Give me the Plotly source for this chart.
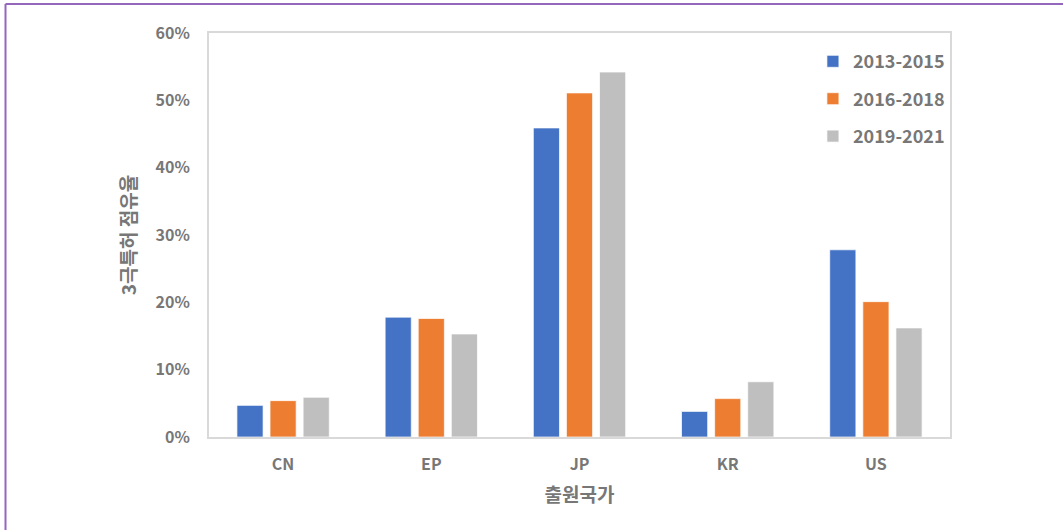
import plotly.graph_objects as go

categories = ["CN", "EP", "JP", "KR", "US"]
series_names = ["2013-2015", "2016-2018", "2019-2021"]
v_2013_2015 = [0.047, 0.178, 0.459, 0.038, 0.278]
v_2016_2018 = [0.054, 0.176, 0.511, 0.057, 0.201]
v_2019_2021 = [0.059, 0.153, 0.542, 0.082, 0.162]
y_ticks = [0, 0.1, 0.2, 0.3, 0.4, 0.5, 0.6]
colors = ["#4472C4", "#ED7D31", "#BFBFBF"]

FONT = "Noto Sans CJK KR"
GREY = "#777777"

fig = go.Figure()
for name, vals, col in zip(series_names, [v_2013_2015, v_2016_2018, v_2019_2021], colors):
    fig.add_trace(go.Bar(
        x=categories, y=vals, name=name, legendgroup=name,
        marker=dict(color=col, line=dict(color="rgba(255,255,255,0.7)", width=1)),
    ))

fig.update_layout(
    width=1063, height=530,
    margin=dict(l=209, r=113, t=33, b=93),
    paper_bgcolor="white", plot_bgcolor="white",
    barmode="group", bargap=0.33, bargroupgap=0.21,
    font=dict(family=FONT, color=GREY, size=16),
    legend=dict(
        x=0.815, y=0.975, xanchor="left", yanchor="top",
        font=dict(family=FONT, size=18, color=GREY, weight="bold"),
        bgcolor="rgba(0,0,0,0)", tracegroupgap=11, itemwidth=30,
        traceorder="grouped",
    ),
    xaxis=dict(
        showline=True, mirror=True, linecolor="#D9D9D9", linewidth=2,
        ticks="outside", ticklen=12, tickcolor="rgba(0,0,0,0)",
        tickfont=dict(family=FONT, size=16, color=GREY, weight="bold"),
        title=dict(text="출원국가", standoff=14,
                   font=dict(family=FONT, size=19, color=GREY, weight="bold")),
    ),
    yaxis=dict(
        range=[0, 0.6], tickvals=y_ticks, tickformat=".0%",
        showgrid=False, zeroline=False,
        showline=True, mirror=True, linecolor="#D9D9D9", linewidth=2,
        ticks="outside", ticklen=14, tickcolor="rgba(0,0,0,0)",
        tickfont=dict(family=FONT, size=16, color=GREY, weight="bold"),
        title=dict(text="3극특허 점유율", standoff=14,
                   font=dict(family=FONT, size=19, color=GREY, weight="bold")),
    ),
    shapes=[
        dict(type="line", xref="paper", yref="paper",
             x0=(5.5 - 209) / 741, x1=(5.5 - 209) / 741,
             y0=(437 - 4) / 404, y1=(437 - 540) / 404,
             line=dict(color="#9467BD", width=2)),
        dict(type="line", xref="paper", yref="paper",
             x0=(5.5 - 209) / 741, x1=(1070 - 209) / 741,
             y0=(437 - 4) / 404, y1=(437 - 4) / 404,
             line=dict(color="#9467BD", width=2)),
    ],
)

fig.write_html("out.html")
